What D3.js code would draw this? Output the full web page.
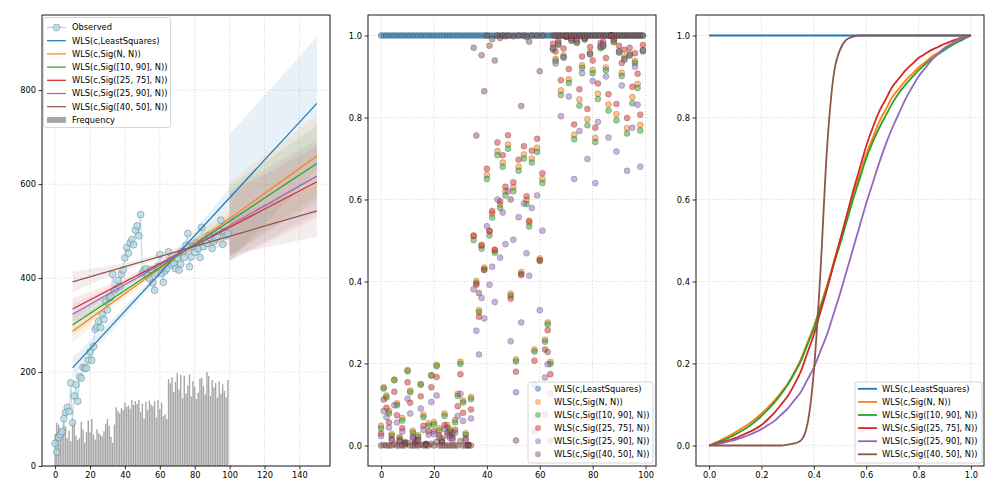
<!DOCTYPE html>
<html><head><meta charset="utf-8">
<script src="https://cdn.jsdelivr.net/npm/d3@7"></script>
<style>body{margin:0;background:#fff}text{font-family:"DejaVu Sans",sans-serif;}</style>
</head><body><svg id="c" width="1000" height="500"></svg>
<script>
// ---------------- DATA ----------------
const seriesNames = ["WLS(c,LeastSquares)","WLS(c,Sig(N, N))","WLS(c,Sig([10, 90], N))","WLS(c,Sig([25, 75], N))","WLS(c,Sig([25, 90], N))","WLS(c,Sig([40, 50], N))"];
const seriesColors = ["#1f77b4","#ff7f0e","#2ca02c","#d62728","#9467bd","#8c564b"];
const obsX = d3.range(100);
const observed = [48,29,61,67,73,101,114,125,116,177,
92,149,173,138,190,187,210,208,208,225,
243,225,254,291,296,308,295,323,312,350,
332,357,360,408,374,378,395,382,408,417,
443,465,453,475,482,471,502,511,490,535,
411,417,420,405,399,418,390,374,410,425,
450,410,391,415,420,456,438,427,431,420,
442,417,430,456,444,470,495,424,445,467,
455,474,463,444,508,467,480,474,491,486,
463,478,484,489,500,523,472,499,490,495];
const frequency = [69,92,88,80,62,95,84,59,75,53,
98,91,65,55,60,94,78,50,72,97,
72,100,67,56,78,70,66,63,74,89,
100,86,62,49,88,125,117,112,123,119,
135,126,129,122,140,130,138,132,141,115,
133,101,137,119,139,131,127,138,103,141,
121,135,106,110,100,185,176,189,157,179,
198,163,194,144,192,154,171,195,148,181,
168,143,156,186,188,170,152,200,192,149,
183,167,177,145,180,154,174,160,146,183];
// fitted lines (value at x=10 and x=150)
const fitX = [10,150];
const fitStart = [209,287,300,334,323,392];
const fitEnd = [772,660,644,605,617,543];
// in-sample confidence band half widths
const bandInX = [10,32,55,78,100];
const bandInHalf = [[22,12,8,12,22],[25,13,7,13,24],[24,12,7,12,23],[23,12,7,12,22],[23,12,7,12,22],[22,11,6,11,20]];
// out-of-sample band half widths
const bandOutX = [100,150];
const bandOutHalf = [[135,141],[78,85],[75,80],[72,76],[74,78],[40,55]];

// weights (middle panel)
const wLS = [1,1,1,1,1,1,1,1,1,1,1,1,1,1,1,1,1,1,1,1,1,1,1,1,1,1,1,1,1,1,1,1,1,1,1,1,1,1,1,1,1,1,1,1,1,1,1,1,1,1,1,1,1,1,1,1,1,1,1,1,1,1,1,1,1,1,1,1,1,1,1,1,1,1,1,1,1,1,1,1,1,1,1,1,1,1,1,1,1,1,1,1,1,1,1,1,1,1,1,1];
const wSigNN = [.048,.142,.122,.084,.028,.161,.103,.021,.067,.009,
.184,.134,.036,.013,.025,.15,.075,.004,.054,.172,
.057,.197,.042,.017,.078,.05,.04,.032,.062,.126,
.204,.11,.03,.001,.118,.511,.401,.33,.489,.434,
.66,.522,.566,.478,.718,.588,.69,.62,.734,.37,
.63,.21,.68,.423,.71,.599,.544,.70,.234,.726,
.456,.65,.258,.30,.204,.968,.943,.979,.866,.952,
.997,.893,.988,.758,.983,.844,.927,.991,.796,.958,
.916,.75,.858,.972,.975,.922,.832,1,.985,.808,
.962,.909,.948,.774,.956,.85,.938,.882,.782,.964];
const wSig1090 = [.042,.139,.117,.078,.024,.159,.098,.017,.061,.007,
.181,.13,.031,.011,.021,.148,.069,.004,.048,.17,
.051,.193,.036,.013,.072,.044,.034,.027,.056,.121,
.199,.105,.026,.001,.113,.501,.396,.325,.48,.429,
.65,.512,.556,.47,.708,.579,.68,.61,.724,.365,
.62,.205,.67,.418,.70,.589,.534,.69,.229,.716,
.45,.64,.253,.295,.199,.965,.938,.977,.855,.947,
.997,.884,.987,.747,.982,.829,.921,.99,.781,.954,
.908,.74,.845,.969,.973,.915,.817,1,.984,.793,
.958,.901,.943,.761,.951,.835,.933,.872,.768,.961];
const wSig2575 = [.029,.112,.092,.056,.016,.131,.074,.012,.042,.005,
.154,.104,.021,.007,.014,.12,.048,.002,.034,.142,
.035,.167,.025,.009,.05,.031,.024,.018,.038,.096,
.174,.08,.017,.001,.088,.512,.392,.314,.488,.428,
.675,.524,.572,.476,.739,.596,.708,.631,.757,.358,
.642,.18,.697,.416,.73,.608,.548,.719,.207,.748,
.452,.664,.234,.281,.174,.98,.961,.987,.891,.968,
.998,.918,.994,.783,.991,.869,.949,.995,.821,.972,
.939,.775,.883,.982,.985,.945,.857,1,.992,.833,
.975,.933,.965,.799,.97,.875,.957,.907,.807,.977];
const wSig2590 = [.023,.084,.069,.044,.012,.098,.056,.009,.034,.004,
.114,.078,.016,.005,.011,.09,.038,.002,.026,.106,
.028,.122,.019,.007,.04,.024,.018,.014,.031,.072,
.126,.06,.013,.001,.066,.381,.28,.222,.36,.31,
.535,.392,.436,.35,.60,.458,.568,.491,.62,.254,
.502,.13,.557,.30,.59,.469,.414,.579,.148,.61,
.33,.524,.166,.198,.126,.97,.932,.982,.803,.946,
.998,.851,.992,.65,.988,.767,.908,.994,.699,.955,
.889,.64,.789,.974,.978,.90,.751,1,.99,.717,
.961,.878,.94,.67,.952,.775,.924,.831,.68,.964];
const wSig4050 = [0,.001,0,0,0,.003,0,0,0,0,
.006,0,0,0,0,.002,0,0,0,.004,
0,.009,0,0,0,0,0,0,0,0,
.011,0,0,0,0,.97,.756,.372,.952,.864,
1,.975,.991,.939,1,.994,1,.998,1,.6,
.998,.012,1,.828,1,.996,.985,1,.035,1,
.913,1,.076,.228,.011,1,1,1,1,1,
1,1,1,1,1,1,1,1,1,1,
1,1,1,1,1,1,1,1,1,1,
1,1,1,1,1,1,1,1,1,1];

// sigmoid curves (right panel)
const uGrid = [0,.025,.05,.075,.1,.125,.15,.175,.2,.225,.25,.275,.3,.325,.35,.375,.4,.425,.45,.475,.5,.525,.55,.575,.6,.625,.65,.675,.7,.725,.75,.775,.8,.825,.85,.875,.9,.925,.95,.975,1];
const lsU = [0,1], lsW = [1,1];
const cSigNN = [0,.007,.015,.023,.032,.042,.052,.064,.078,.093,.11,.13,.15,.178,.21,.25,.29,.34,.39,.445,.5,.555,.61,.66,.71,.75,.79,.82,.85,.87,.89,.906,.922,.935,.948,.958,.968,.977,.985,.993,1];
const cSig1090 = [0,.006,.012,.019,.027,.036,.046,.058,.072,.088,.105,.125,.148,.175,.205,.245,.285,.335,.385,.44,.49,.545,.60,.65,.70,.74,.775,.805,.835,.86,.88,.898,.915,.93,.943,.954,.965,.975,.984,.992,1];
const cSig2575 = [0,.004,.008,.013,.018,.025,.032,.04,.05,.064,.08,.10,.12,.148,.18,.225,.27,.325,.38,.44,.50,.56,.62,.675,.73,.775,.815,.845,.875,.895,.915,.93,.945,.955,.965,.972,.98,.986,.992,.996,1];
const cSig2590 = [0,.003,.006,.01,.014,.019,.025,.032,.04,.05,.06,.075,.09,.11,.13,.16,.19,.23,.27,.32,.37,.425,.48,.535,.59,.64,.69,.735,.775,.81,.845,.873,.9,.92,.94,.955,.97,.98,.99,.995,1];
const cSig4050 = [0,0,0,0,0,0,0,0,0,0,0,0,.002,.005,.012,.05,.18,.42,.72,.9,.965,.99,.997,1,1,1,1,1,1,1,1,1,1,1,1,1,1,1,1,1,1];

const leftXTicks = [0,20,40,60,80,100,120,140];
const leftYTicks = [0,200,400,600,800];
const midXTicks = [0,20,40,60,80,100];
const wTicks = [0,0.2,0.4,0.6,0.8,1.0];
const uTicks = [0,0.2,0.4,0.6,0.8,1.0];

// ---------------- DRAW ----------------
const svg = d3.select("#c");
const Y0 = 15, Y1 = 466;
const FS = 8.3;
const P = [{x0:42,x1:330},{x0:368,x1:656},{x0:696,x1:984}];

function gridAndAxes(p, xs, ys, xt, yt){
  const g = svg.append("g");
  g.selectAll(".gx").data(xt).join("line").attr("x1",d=>xs(d)).attr("x2",d=>xs(d)).attr("y1",Y0).attr("y2",Y1)
    .attr("stroke","#d9d9d9").attr("stroke-dasharray","1.2,2").attr("stroke-width",1);
  g.selectAll(".gy").data(yt).join("line").attr("y1",d=>ys(d)).attr("y2",d=>ys(d)).attr("x1",p.x0).attr("x2",p.x1)
    .attr("stroke","#d9d9d9").attr("stroke-dasharray","1.2,2").attr("stroke-width",1);
  return g;
}
function frame(p, xs, ys, xt, yt, xfmt, yfmt){
  const ax = svg.append("g").attr("transform",`translate(0,${Y1})`)
    .call(d3.axisBottom(xs).tickValues(xt).tickFormat(xfmt).tickSize(3.5).tickPadding(2.5));
  const ay = svg.append("g").attr("transform",`translate(${p.x0},0)`)
    .call(d3.axisLeft(ys).tickValues(yt).tickFormat(yfmt).tickSize(3.5).tickPadding(2.5));
  [ax,ay].forEach(a=>{a.select(".domain").remove();a.selectAll("text").attr("font-size",FS).attr("fill","#000").style("font-family","DejaVu Sans");a.selectAll("line").attr("stroke","#000").attr("stroke-width",0.8);});
  svg.append("rect").attr("x",p.x0).attr("y",Y0).attr("width",p.x1-p.x0).attr("height",Y1-Y0)
    .attr("fill","none").attr("stroke","#000").attr("stroke-width",0.9);
}

// ===== Left panel =====
const p0 = P[0];
const xL = d3.scaleLinear().domain([-7.5,157.5]).range([p0.x0,p0.x1]);
const yL = d3.scaleLinear().domain([0,960]).range([Y1,Y0]);
gridAndAxes(p0,xL,yL,leftXTicks,leftYTicks);
const bw = (xL(1)-xL(0))*0.8;
svg.append("g").selectAll("rect").data(obsX).join("rect")
  .attr("x",d=>xL(d)-bw/2).attr("width",bw).attr("y",d=>yL(frequency[d])).attr("height",d=>yL(0)-yL(frequency[d]))
  .attr("fill","#a6a6a6");
// bands
seriesNames.forEach((n,i)=>{
  const fit = d3.scaleLinear().domain(fitX).range([fitStart[i],fitEnd[i]]);
  const inPts = bandInX.map((x,k)=>({x, lo:fit(x)-bandInHalf[i][k], hi:fit(x)+bandInHalf[i][k]}));
  const outPts = bandOutX.map((x,k)=>({x, lo:fit(x)-bandOutHalf[i][k], hi:fit(x)+bandOutHalf[i][k]}));
  const ar = d3.area().x(d=>xL(d.x)).y0(d=>yL(d.lo)).y1(d=>yL(d.hi)).curve(d3.curveMonotoneX);
  svg.append("path").attr("d",ar(inPts)).attr("fill",seriesColors[i]).attr("fill-opacity",0.1);
  svg.append("path").attr("d",d3.area().x(d=>xL(d.x)).y0(d=>yL(d.lo)).y1(d=>yL(d.hi))(outPts)).attr("fill",seriesColors[i]).attr("fill-opacity",0.1);
});
// observed
svg.append("path").attr("d",d3.line().x(d=>xL(d)).y(d=>yL(observed[d]))(obsX))
  .attr("fill","none").attr("stroke","#add8e6").attr("stroke-width",1.2).attr("stroke-opacity",0.8);
svg.append("g").selectAll("circle").data(obsX).join("circle")
  .attr("cx",d=>xL(d)).attr("cy",d=>yL(observed[d])).attr("r",3.4)
  .attr("fill","#add8e6").attr("fill-opacity",0.75).attr("stroke","#4d5b63").attr("stroke-opacity",0.55).attr("stroke-width",0.7);
// fit lines
seriesNames.forEach((n,i)=>{
  svg.append("line").attr("x1",xL(fitX[0])).attr("x2",xL(fitX[1])).attr("y1",yL(fitStart[i])).attr("y2",yL(fitEnd[i]))
    .attr("stroke",seriesColors[i]).attr("stroke-width",1.2);
});
frame(p0,xL,yL,leftXTicks,leftYTicks,d3.format("d"),d3.format("d"));

// ===== Middle panel =====
const p1 = P[1];
const xM = d3.scaleLinear().domain([-4.95,103.95]).range([p1.x0,p1.x1]);
const yW = d3.scaleLinear().domain([-0.05,1.05]).range([Y1,Y0]);
gridAndAxes(p1,xM,yW,midXTicks,wTicks);
const weights = [wLS,wSigNN,wSig1090,wSig2575,wSig2590,wSig4050];
weights.forEach((w,i)=>{
  svg.append("g").selectAll("circle").data(obsX).join("circle")
    .attr("cx",d=>xM(d)).attr("cy",d=>yW(w[d])).attr("r",3)
    .attr("fill",seriesColors[i]).attr("fill-opacity",0.5)
    .attr("stroke","#000").attr("stroke-opacity",0.3).attr("stroke-width",0.6);
});
frame(p1,xM,yW,midXTicks,wTicks,d3.format("d"),d3.format(".1f"));

// ===== Right panel =====
const p2 = P[2];
const xU = d3.scaleLinear().domain([-0.05,1.05]).range([p2.x0,p2.x1]);
gridAndAxes(p2,xU,yW,uTicks,wTicks);
const curves = [[lsU,lsW],[uGrid,cSigNN],[uGrid,cSig1090],[uGrid,cSig2575],[uGrid,cSig2590],[uGrid,cSig4050]];
curves.forEach(([u,w],i)=>{
  svg.append("path").attr("d",d3.line().x((d,k)=>xU(u[k])).y((d,k)=>yW(w[k])).curve(d3.curveMonotoneX)(u))
    .attr("fill","none").attr("stroke",seriesColors[i]).attr("stroke-width",1.8);
});
frame(p2,xU,yW,uTicks,wTicks,d3.format(".1f"),d3.format(".1f"));

// ===== Legends =====
function legendBox(x,y,w,h){
  svg.append("rect").attr("x",x).attr("y",y).attr("width",w).attr("height",h).attr("rx",2)
    .attr("fill","#fff").attr("fill-opacity",0.8).attr("stroke","#cccccc").attr("stroke-width",0.8);
}
function ltext(x,y,t){svg.append("text").attr("x",x).attr("y",y).attr("dy","0.35em").attr("font-size",FS).attr("fill","#000").text(t);}
// left
legendBox(43.5,17.5,127,110);
{
  const ys = d3.range(8).map(k=>27.5+13.2*k);
  svg.append("line").attr("x1",47).attr("x2",66).attr("y1",ys[0]).attr("y2",ys[0]).attr("stroke","#add8e6").attr("stroke-width",1.2);
  svg.append("circle").attr("cx",56.5).attr("cy",ys[0]).attr("r",3.4).attr("fill","#add8e6").attr("fill-opacity",0.75).attr("stroke","#4d5b63").attr("stroke-opacity",0.55).attr("stroke-width",0.7);
  ltext(72,ys[0],"Observed");
  seriesNames.forEach((n,i)=>{
    svg.append("line").attr("x1",47).attr("x2",66).attr("y1",ys[i+1]).attr("y2",ys[i+1]).attr("stroke",seriesColors[i]).attr("stroke-width",1.2);
    ltext(72,ys[i+1],n);
  });
  svg.append("rect").attr("x",47).attr("y",ys[7]-3).attr("width",19).attr("height",6).attr("fill","#a6a6a6");
  ltext(72,ys[7],"Frequency");
}
// middle
legendBox(528,382,125,81);
seriesNames.forEach((n,i)=>{
  const y = 388.8+13.1*i;
  svg.append("circle").attr("cx",538).attr("cy",y).attr("r",3).attr("fill",seriesColors[i]).attr("fill-opacity",0.5);
  ltext(554,y,n);
});
// right
legendBox(855,382,127,81);
seriesNames.forEach((n,i)=>{
  const y = 388.8+13.1*i;
  svg.append("line").attr("x1",858).attr("x2",877).attr("y1",y).attr("y2",y).attr("stroke",seriesColors[i]).attr("stroke-width",1.8);
  ltext(882,y,n);
});
</script></body></html>
